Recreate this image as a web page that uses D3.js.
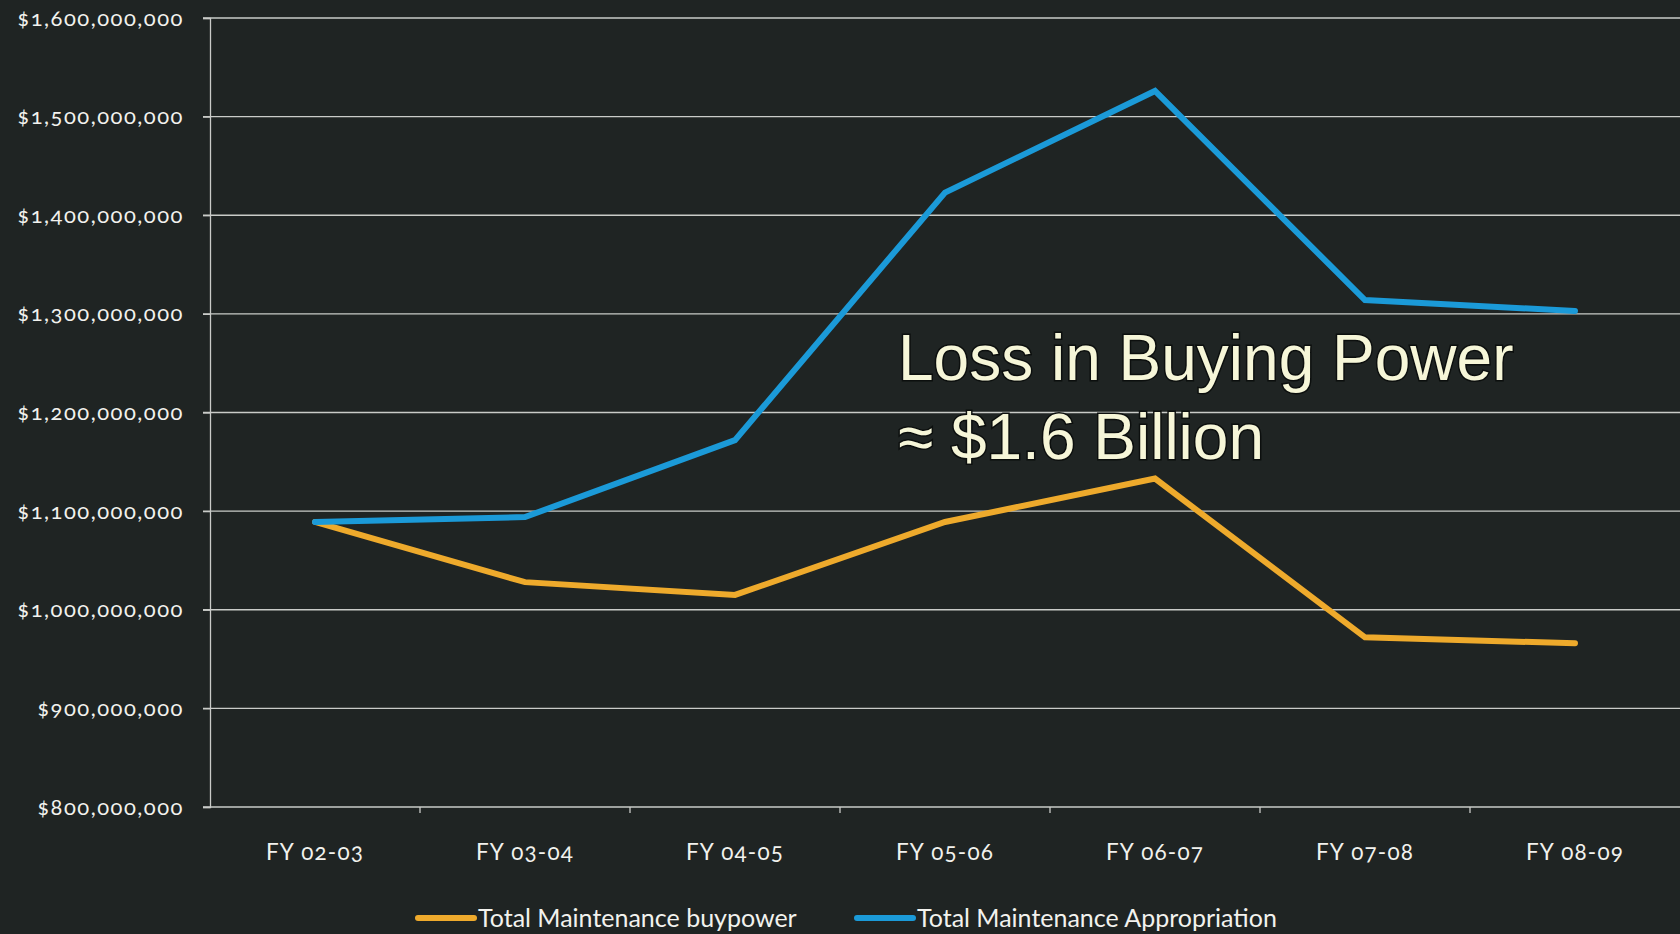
<!DOCTYPE html>
<html>
<head>
<meta charset="utf-8">
<script src="https://cdn.jsdelivr.net/npm/d3@7"></script>
<style>
  html, body { margin: 0; padding: 0; background: #1f2423; }
  svg { display: block; }
  .tick text { font-variant-numeric: oldstyle-nums; }
</style>
</head>
<body>
<svg id="chart" width="1680" height="934"></svg>
<script>
const categories = ["FY 02-03", "FY 03-04", "FY 04-05", "FY 05-06", "FY 06-07", "FY 07-08", "FY 08-09"];
const buypower = [1089e6, 1028e6, 1015e6, 1089e6, 1133e6, 972e6, 966e6];
const appropriation = [1089e6, 1094e6, 1172e6, 1423e6, 1526e6, 1314e6, 1303e6];
const yTicks = [800e6, 900e6, 1000e6, 1100e6, 1200e6, 1300e6, 1400e6, 1500e6, 1600e6];
const seriesNames = ["Total Maintenance buypower", "Total Maintenance Appropriation"];
const seriesColors = ["#eeaa2c", "#1b9ad8"];
const annotationLines = ["Loss in Buying Power", "\u2248 $1.6 Billion"];

const svg = d3.select("#chart");
const W = 1680, H = 934;
const margin = {left: 210, right: 0, top: 18, bottom: 127};

svg.append("rect").attr("width", W).attr("height", H).attr("fill", "#1f2423");

const x = d3.scaleBand().domain(categories).range([margin.left, margin.left + 7 * 210]).padding(0);
const y = d3.scaleLinear().domain([800e6, 1600e6]).range([H - margin.bottom, margin.top]);

const labelFont = "Lato, 'Open Sans', sans-serif";

// gridlines
svg.append("g")
  .selectAll("line")
  .data(yTicks)
  .join("line")
  .attr("x1", margin.left - 7)
  .attr("x2", W)
  .attr("y1", d => y(d))
  .attr("y2", d => y(d))
  .attr("stroke", "#c9cbc8")
  .attr("stroke-width", 1.3);

// y axis
const yAxis = svg.append("g")
  .attr("transform", `translate(${margin.left},0)`)
  .call(d3.axisLeft(y).tickValues(yTicks).tickSize(7).tickPadding(19)
    .tickFormat(d => "$" + d3.format(",")(d)));
yAxis.select(".domain").attr("stroke", "#c9cbc8").attr("stroke-width", 1.3);
yAxis.selectAll(".tick line").attr("stroke", "#c9cbc8").attr("stroke-width", 1.3);
yAxis.selectAll(".tick text")
  .attr("fill", "#f2f2ee")
  .attr("font-family", labelFont)
  .attr("font-size", 22)
  .attr("letter-spacing", 1.5);

// x axis
const xAxis = svg.append("g")
  .attr("transform", `translate(0,${H - margin.bottom})`)
  .call(d3.axisBottom(x).tickSize(0).tickPadding(37));
xAxis.select(".domain").remove();
xAxis.selectAll(".tick text")
  .attr("fill", "#f2f2ee")
  .attr("font-family", labelFont)
  .attr("font-size", 22.5)
  .attr("letter-spacing", 1.2);

// x tick marks at band boundaries
svg.append("g")
  .selectAll("line")
  .data(categories.slice(1))
  .join("line")
  .attr("x1", d => x(d))
  .attr("x2", d => x(d))
  .attr("y1", y(800e6))
  .attr("y2", y(800e6) + 6)
  .attr("stroke", "#c9cbc8")
  .attr("stroke-width", 1.3);

// lines
const line = d3.line()
  .x((d, i) => x(categories[i]) + x.bandwidth() / 2)
  .y(d => y(d));

[buypower, appropriation].forEach((vals, i) => {
  svg.append("path")
    .datum(vals)
    .attr("d", line)
    .attr("fill", "none")
    .attr("stroke", seriesColors[i])
    .attr("stroke-width", 6)
    .attr("stroke-linejoin", "miter")
    .attr("stroke-linecap", "round");
});

// annotation
const ann = svg.append("text")
  .attr("x", 898)
  .attr("y", 380)
  .attr("font-family", "'Liberation Sans', Arial, sans-serif")
  .attr("font-size", 64)
  .attr("fill", "#f6f6d8")
  .attr("stroke", "#0c0f0e")
  .attr("stroke-width", 3)
  .attr("paint-order", "stroke");
ann.selectAll("tspan")
  .data(annotationLines)
  .join("tspan")
  .attr("x", 898)
  .attr("dy", (d, i) => i === 0 ? 0 : 79)
  .text(d => d);

// legend
const legendX = [418, 857];
const legend = svg.append("g");
seriesNames.forEach((name, i) => {
  legend.append("line")
    .attr("x1", legendX[i])
    .attr("x2", legendX[i] + 56)
    .attr("y1", 918)
    .attr("y2", 918)
    .attr("stroke", seriesColors[i])
    .attr("stroke-width", 6)
    .attr("stroke-linecap", "round");
  legend.append("text")
    .attr("x", legendX[i] + 60)
    .attr("y", 918)
    .attr("dy", "0.35em")
    .attr("font-family", labelFont)
    .attr("font-size", 25)
    .attr("fill", "#f2f2ee")
    .text(name);
});
</script>
</body>
</html>
